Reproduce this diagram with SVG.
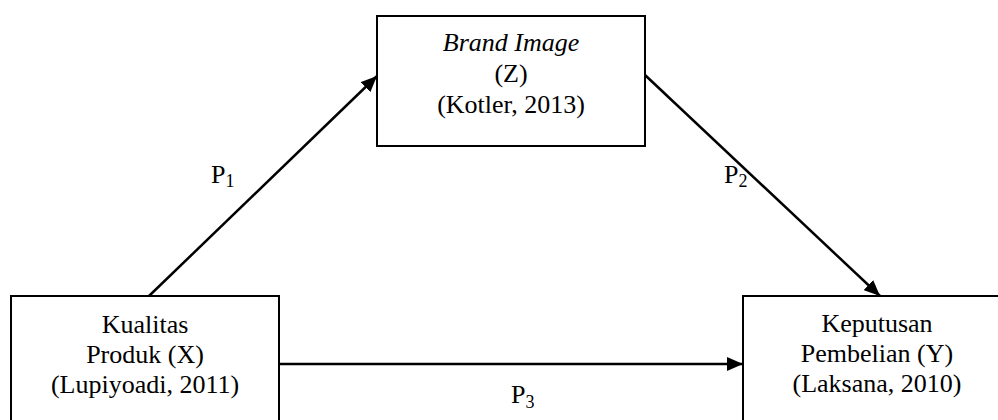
<svg xmlns="http://www.w3.org/2000/svg" width="998" height="420" viewBox="0 0 998 420">
<style>
.box{fill:#fff;stroke:#000;stroke-width:2}
.t{font-family:"Liberation Serif","Times New Roman",serif;font-size:26px;fill:#000;text-anchor:middle}
.lbl{font-family:"Liberation Serif","Times New Roman",serif;font-size:26px;fill:#000}
.sub{font-size:18px}
.edge{stroke:#000;stroke-width:2.5;fill:none;marker-end:url(#arr)}
</style>
<defs>
<marker id="arr" markerUnits="userSpaceOnUse" markerWidth="16" markerHeight="14" refX="16" refY="7" orient="auto">
<path d="M0,0 L16,7 L0,14 z" fill="#000"/>
</marker>
</defs>
<rect width="998" height="420" fill="#fff"/>
<g id="connectors">
<line class="edge" x1="149" y1="296" x2="377" y2="76"/>
<line class="edge" x1="645" y1="75" x2="880" y2="296"/>
<line class="edge" x1="279" y1="364" x2="743" y2="364"/>
</g>
<g id="node-brand">
<rect class="box" x="377" y="16" width="268" height="130"/>
<text class="t" x="511" y="51" font-style="italic">Brand Image</text>
<text class="t" x="511" y="82">(Z)</text>
<text class="t" x="511" y="113">(Kotler, 2013)</text>
</g>
<g id="node-kualitas">
<rect class="box" x="11" y="296" width="268" height="140"/>
<text class="t" x="145" y="333">Kualitas</text>
<text class="t" x="145" y="363">Produk (X)</text>
<text class="t" x="145" y="393">(Lupiyoadi, 2011)</text>
</g>
<g id="node-keputusan">
<rect class="box" x="743" y="296" width="268" height="140"/>
<text class="t" x="877" y="332">Keputusan</text>
<text class="t" x="877" y="362">Pembelian (Y)</text>
<text class="t" x="877" y="392">(Laksana, 2010)</text>
</g>
<g id="labels">
<text class="lbl" x="211" y="183">P<tspan class="sub" dy="4">1</tspan></text>
<text class="lbl" x="724" y="183">P<tspan class="sub" dy="4">2</tspan></text>
<text class="lbl" x="511" y="403">P<tspan class="sub" dy="5">3</tspan></text>
</g>
</svg>
